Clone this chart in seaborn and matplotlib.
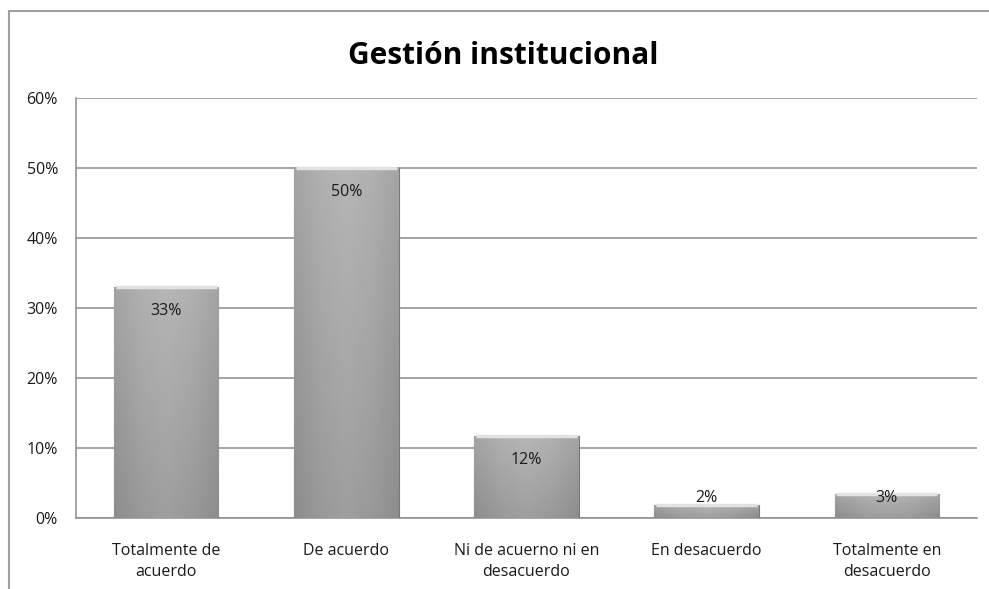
import numpy as np
import pandas as pd
import matplotlib
matplotlib.use("Agg")
import matplotlib.pyplot as plt
from matplotlib.lines import Line2D
from matplotlib.colors import LinearSegmentedColormap
import seaborn as sns

# data
categories = ["Totalmente de\nacuerdo", "De acuerdo", "Ni de acuerno ni en\ndesacuerdo",
              "En desacuerdo", "Totalmente en\ndesacuerdo"]
values = [0.33, 0.50, 0.117, 0.019, 0.034]
yticks = [0, 0.1, 0.2, 0.3, 0.4, 0.5, 0.6]

sns.set_style("white")
plt.rcParams['font.family'] = ["Open Sans", "DejaVu Sans"]

df = pd.DataFrame({"cat": categories, "val": values})

fig = plt.figure(figsize=(9.89, 5.89), dpi=100)
ax = fig.add_axes([0.0768, 0.1205, 0.9110, 0.7131])

sns.barplot(data=df, x="cat", y="val", color="#a0a0a0", width=0.58,
            edgecolor="#777777", linewidth=0.8, ax=ax, zorder=3)

ax.set_ylim(0, 0.6)
ax.set_xlim(-0.5, 4.5)

# shading on each bar: darker at the sides, a bit lighter at top
cmap = LinearSegmentedColormap.from_list("g", ["#8c8c8c", "#a8a8a8", "#b4b4b4", "#a8a8a8", "#8c8c8c"])
side = np.linspace(0, 1, 64).reshape(1, -1)
cmap_v = LinearSegmentedColormap.from_list("v", ["#8e8e8e", "#b8b8b8"])
vert = np.linspace(0, 1, 128).reshape(-1, 1)
for bar in ax.patches:
    x0, y0 = bar.get_x(), bar.get_y()
    w, h = bar.get_width(), bar.get_height()
    im = ax.imshow(vert, cmap=cmap_v, aspect="auto", origin="lower",
                   extent=[x0, x0 + w, y0, y0 + h], zorder=3.4)
    im.set_clip_path(bar)
    im2 = ax.imshow(side, cmap=cmap, aspect="auto", origin="lower", alpha=0.45,
                    extent=[x0, x0 + w, y0, y0 + h], zorder=3.5)
    im2.set_clip_path(bar)
    # light bevel at top
    ax.plot([x0 + 0.01, x0 + w - 0.01], [y0 + h, y0 + h], color="#e2e2e2", lw=2.5, zorder=4,
            solid_capstyle="butt")
ax.set_ylim(0, 0.6)
ax.set_xlim(-0.5, 4.5)

# data labels
for i, v in enumerate(values):
    ax.text(i, max(v - 0.034, 0.029), f"{v:.0%}", ha="center", va="center",
            fontsize=11.5, color="#1a1a1a", zorder=5)

ax.set_yticks(yticks)
ax.set_yticklabels([f"{t:.0%}" for t in yticks])
ax.yaxis.grid(True, color="#8c8c8c", linewidth=1.1)
ax.set_axisbelow(True)
ax.tick_params(axis="both", length=0, labelsize=11.5, colors="#1a1a1a")
ax.tick_params(axis="y", pad=13)
ax.tick_params(axis="x", pad=18)
ax.set_xlabel("")
ax.set_ylabel("")
for s in ["top", "right"]:
    ax.spines[s].set_visible(False)
for s in ["left", "bottom"]:
    ax.spines[s].set_color("#8c8c8c")
    ax.spines[s].set_linewidth(1.1)

for lab in ax.get_xticklabels():
    lab.set_linespacing(1.45)

fig.text(0.509, 0.905, "Gestión institucional", ha="center", va="center",
         fontsize=21.5, fontweight="bold", color="black")

# chart frame
fig.add_artist(Line2D([9 / 989, 1], [1 - 11 / 589, 1 - 11 / 589], color="#a0a0a0", lw=1.5))
fig.add_artist(Line2D([9 / 989, 9 / 989], [0, 1 - 11 / 589], color="#a0a0a0", lw=1.5))

plt.savefig("out.png", dpi=100)
